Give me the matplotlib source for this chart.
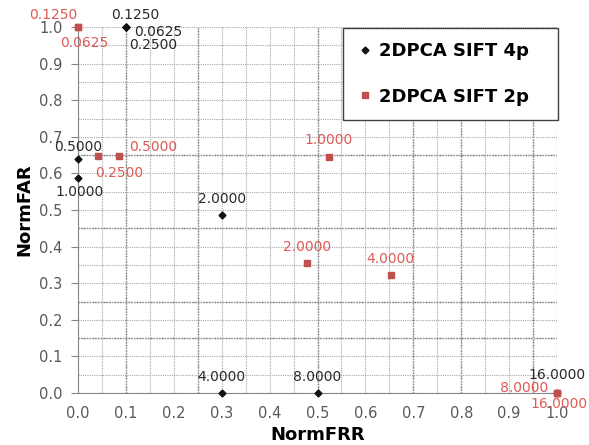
import matplotlib.pyplot as plt
from matplotlib.ticker import MultipleLocator

# lambda values used for both runs
lambdas = ['0.0625', '0.1250', '0.2500', '0.5000', '1.0000',
           '2.0000', '4.0000', '8.0000', '16.0000']

# 2DPCA SIFT 4p
frr_4p = [0.1, 0.1, 0.1, 0.0, 0.0, 0.3, 0.3, 0.5, 1.0]
far_4p = [1.0, 1.0, 1.0, 0.64, 0.587, 0.486, 0.0, 0.0, 0.0]

# 2DPCA SIFT 2p
frr_2p = [0.0, 0.0, 0.042, 0.086, 0.524, 0.478, 0.653, 1.0, 1.0]
far_2p = [1.0, 1.0, 0.648, 0.648, 0.645, 0.355, 0.322, 0.0, 0.0]

# label offsets in pixels so overlapping points stay readable
off_4p = [(32, -5), (9, 12), (27, -18), (0, 12), (2, -14),
          (0, 16), (0, 16), (0, 16), (0, 18)]
off_2p = [(6, -16), (-25, 12), (21, -17), (34, 9), (0, 17),
          (0, 16), (0, 16), (-33, 5), (2, -11)]

black = '#111111'
red = '#c0504d'
red_txt = '#dd5a56'
gray = '#595959'

fig = plt.figure(figsize=(5.89, 4.45), dpi=100)
ax = fig.add_axes([78 / 589, 1 - 393 / 445, 479 / 589, 366 / 445])

ax.set_xlim(0, 1.0)
ax.set_ylim(0, 1.0)
ax.xaxis.set_major_locator(MultipleLocator(0.1))
ax.yaxis.set_major_locator(MultipleLocator(0.1))
ax.xaxis.set_minor_locator(MultipleLocator(0.05))
ax.yaxis.set_minor_locator(MultipleLocator(0.05))

# dotted grid every 0.05, a few lines heavier
ax.grid(True, which='both', color='#a8a8a8', linestyle=(0, (1, 1)), linewidth=0.8)
for v in [0.1, 0.25, 0.5, 0.7, 0.8, 0.95]:
    ax.axvline(v, color='#6a6a6a', linestyle=(0, (1, 1)), linewidth=1.0, zorder=0.5)
for v in [0.15, 0.25, 0.45, 0.65]:
    ax.axhline(v, color='#6a6a6a', linestyle=(0, (1, 1)), linewidth=1.0, zorder=0.5)
ax.axvline(1.0, color='#a8a8a8', linewidth=0.8, zorder=0.5)
ax.set_axisbelow(True)

for s in ['top', 'right']:
    ax.spines[s].set_visible(False)
for s in ['left', 'bottom']:
    ax.spines[s].set_color('#868686')

ax.tick_params(axis='y', which='major', length=5, color='#868686',
               labelsize=10.5, labelcolor=gray, pad=6)
ax.tick_params(axis='x', which='major', length=0, labelsize=10.5,
               labelcolor=gray, pad=9)
ax.tick_params(which='minor', length=0)
ax.xaxis.set_major_formatter(lambda v, p: f'{v:.1f}')
ax.yaxis.set_major_formatter(lambda v, p: f'{v:.1f}')

ax.plot(frr_4p, far_4p, linestyle='none', marker='D', markersize=3.5,
        color=black, label='2DPCA SIFT 4p', clip_on=False, zorder=3)
ax.plot(frr_2p, far_2p, linestyle='none', marker='s', markersize=5,
        color=red, label='2DPCA SIFT 2p', clip_on=False, zorder=3)

for x, y, lab, off in zip(frr_4p, far_4p, lambdas, off_4p):
    ax.annotate(lab, (x, y), xytext=off, textcoords='offset pixels',
                ha='center', va='center', fontsize=10, color='#2a2a2a',
                annotation_clip=False, zorder=4)
for x, y, lab, off in zip(frr_2p, far_2p, lambdas, off_2p):
    ax.annotate(lab, (x, y), xytext=off, textcoords='offset pixels',
                ha='center', va='center', fontsize=10, color=red_txt,
                annotation_clip=False, zorder=4)

ax.set_xlabel('NormFRR', fontsize=13, fontweight='bold', labelpad=4)
ax.set_ylabel('NormFAR', fontsize=13, fontweight='bold', labelpad=4)

leg = ax.legend(loc='upper left', bbox_to_anchor=(343 / 589, 1 - 28 / 445, 215 / 589, 0.0),
                bbox_transform=fig.transFigure, mode='expand', borderaxespad=0,
                fancybox=False, edgecolor='#404040', framealpha=1,
                prop={'weight': 'bold', 'size': 13}, handlelength=0.8,
                handletextpad=0.4, labelspacing=1.5, borderpad=0.8)
leg.get_frame().set_linewidth(1.0)
leg.set_zorder(5)

fig.savefig('out.png', dpi=100)
